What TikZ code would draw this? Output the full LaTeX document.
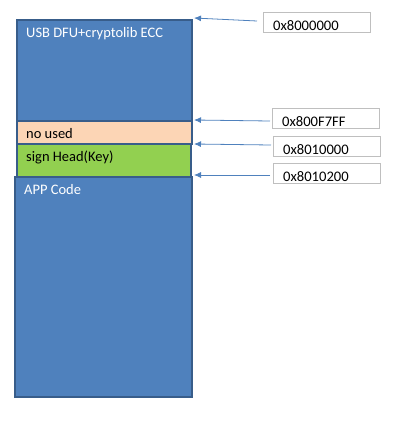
\documentclass[tikz,border=0pt]{standalone}
\usepackage{fontspec}
\setmainfont{Carlito}
\usetikzlibrary{arrows.meta,positioning,calc}
\definecolor{memblue}{RGB}{79,129,189}
\definecolor{memedge}{RGB}{56,93,138}
\definecolor{mempeach}{RGB}{252,213,181}
\definecolor{memgreen}{RGB}{146,208,80}
\definecolor{addrgray}{RGB}{191,191,191}
\tikzset{
  region/.style={rectangle, draw=memedge, line width=2pt, anchor=north west, inner sep=0pt},
  addrbox/.style={rectangle, draw=addrgray, line width=1pt, anchor=north west, inner sep=0pt,
                  minimum width=107pt, minimum height=20pt},
  regtext/.style={anchor=west, inner sep=0pt, font=\fontsize{14.5}{16}\selectfont},
  addrtext/.style={anchor=west, inner sep=0pt, font=\fontsize{14.6}{16}\selectfont},
  ptr/.style={draw=memblue, line width=0.8pt, -{Latex[length=7pt,width=6pt]}}
}
\begin{document}
\begin{tikzpicture}[x=1pt, y=-1pt]
  \useasboundingbox (0,0) rectangle (414,432);
  % memory regions
  \node[region, fill=memblue, minimum width=175pt, minimum height=101pt] (usb) at (16,19) {};
  \node[region, fill=mempeach, minimum width=175pt, minimum height=23pt] (unused) at (16,120) {};
  \node[region, fill=memgreen, minimum width=174pt, minimum height=33pt] (sign) at (16,143) {};
  \node[region, fill=memblue, minimum width=177pt, minimum height=220pt] (app) at (14,176) {};
  \node[regtext, text=white] (usbtext) at (26,34) {USB DFU+cryptolib ECC};
  \node[regtext] (unusedtext) at (26,134) {no used};
  \node[regtext] (signtext) at (26,157) {sign Head(Key)};
  \node[regtext, text=white] (apptext) at (24,190) {APP Code};
  % address labels
  \node[addrbox] (a0) at (263,12) {};
  \node[addrbox] (a1) at (272,108) {};
  \node[addrbox] (a2) at (273,136) {};
  \node[addrbox] (a3) at (273,163) {};
  \node[addrtext] at (273,26) {0x8000000};
  \node[addrtext] at (282,122) {0x800F7FF};
  \node[addrtext] at (283,150) {0x8010000};
  \node[addrtext] at (283,177) {0x8010200};
  % pointers
  \coordinate (p0) at (257,21);
  \coordinate (p1) at (270,121);
  \coordinate (p2) at (271,145);
  \coordinate (p3) at (270,175);
  \draw[ptr] (p0) -- ($(usb.north east)+(1,-1)$);
  \draw[ptr] (p1) -- ($(unused.north east)+(1,0)$);
  \draw[ptr] (p2) -- ($(sign.north east)+(2,1)$);
  \draw[ptr] (p3) -- ($(app.north east)+(1,-1)$);
\end{tikzpicture}
\end{document}
